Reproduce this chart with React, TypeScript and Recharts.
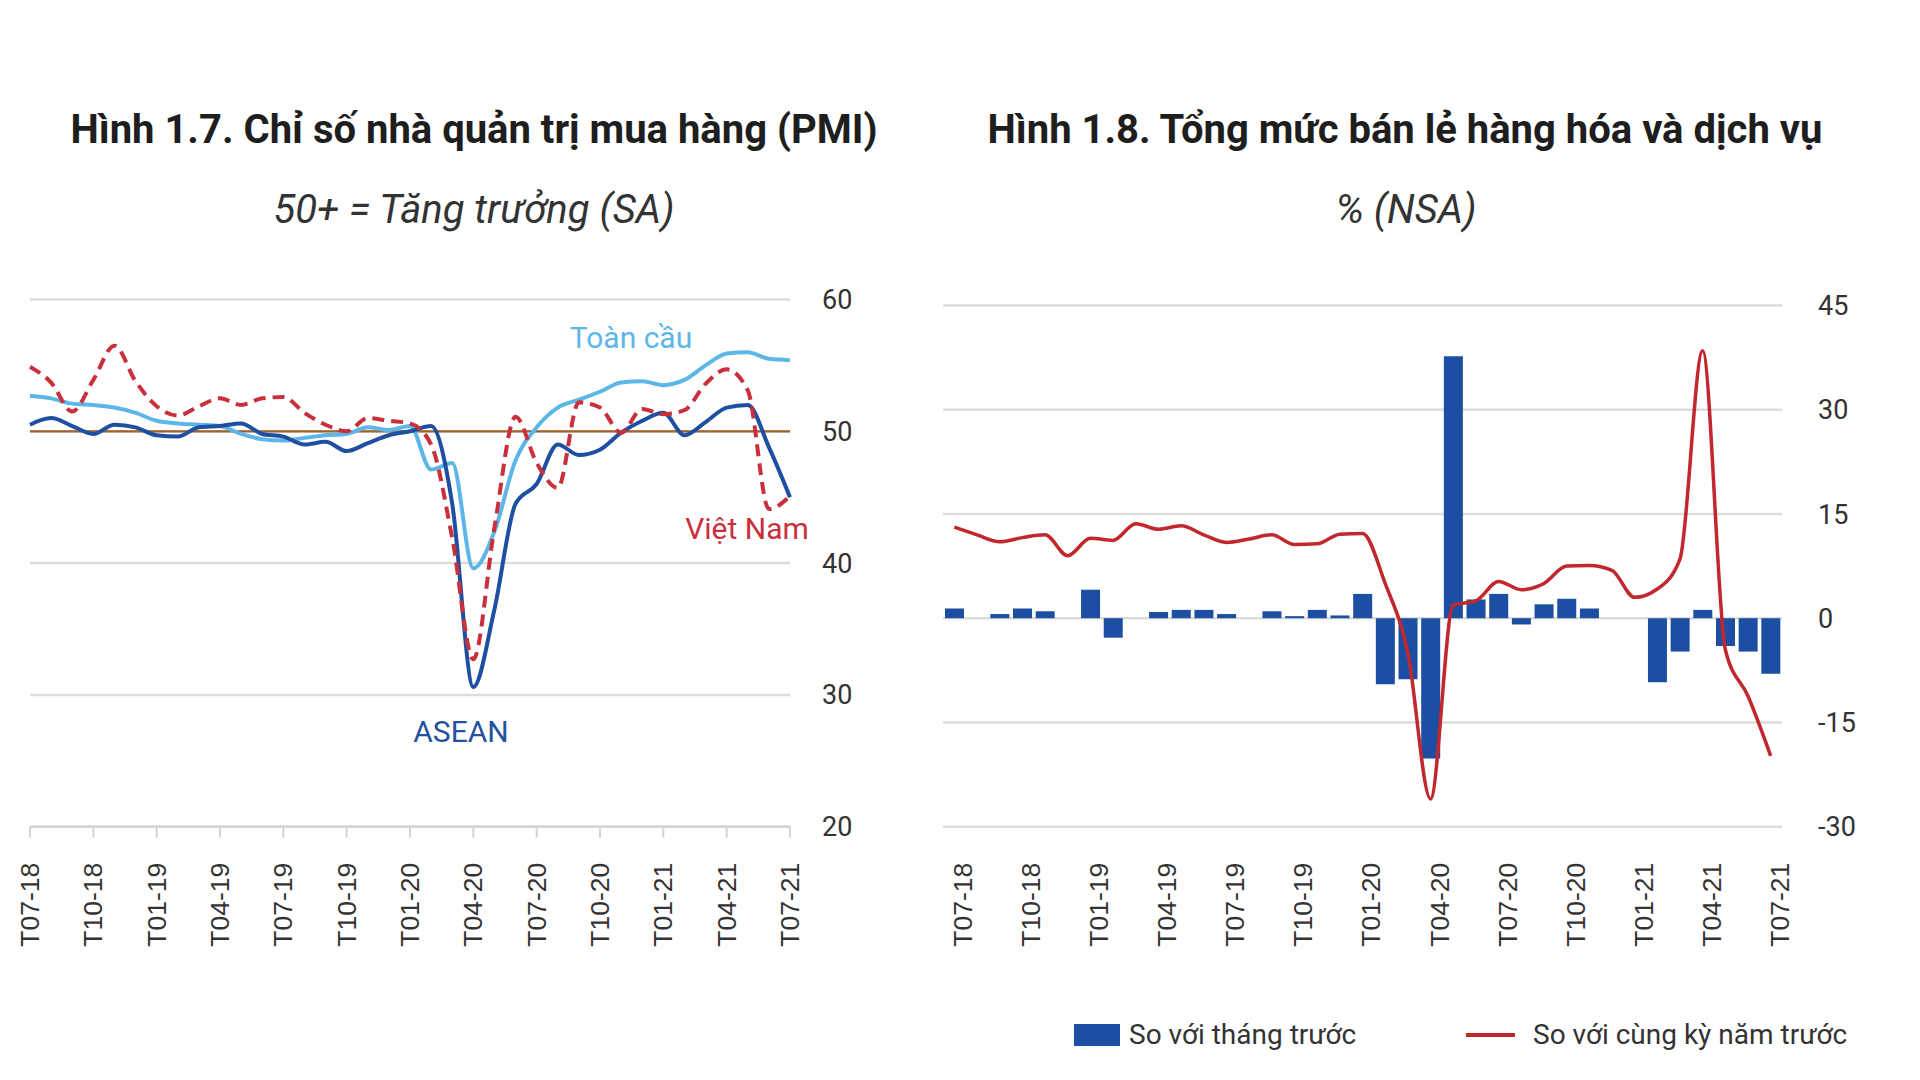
import React from 'react';
import { LineChart, Line, XAxis, YAxis, CartesianGrid, ReferenceLine, ComposedChart, Bar } from 'recharts';

const months = [
  'T07-18', 'T08-18', 'T09-18', 'T10-18', 'T11-18', 'T12-18',
  'T01-19', 'T02-19', 'T03-19', 'T04-19', 'T05-19', 'T06-19', 'T07-19', 'T08-19', 'T09-19', 'T10-19', 'T11-19', 'T12-19',
  'T01-20', 'T02-20', 'T03-20', 'T04-20', 'T05-20', 'T06-20', 'T07-20', 'T08-20', 'T09-20', 'T10-20', 'T11-20', 'T12-20',
  'T01-21', 'T02-21', 'T03-21', 'T04-21', 'T05-21', 'T06-21', 'T07-21',
];

const pmiGlobal = [52.7, 52.5, 52.1, 52.0, 51.8, 51.4, 50.8, 50.6, 50.5, 50.4, 49.8, 49.4, 49.3, 49.5, 49.7, 49.8, 50.3, 50.1, 50.4, 47.1, 47.6, 39.6, 42.4, 47.8, 50.3, 51.8, 52.4, 53.0, 53.7, 53.8, 53.5, 53.9, 55.0, 55.9, 56.0, 55.5, 55.4];
const pmiVietnam = [54.9, 53.7, 51.5, 53.9, 56.5, 53.8, 51.9, 51.2, 51.9, 52.5, 52.0, 52.5, 52.6, 51.4, 50.5, 50.0, 51.0, 50.8, 50.6, 49.0, 41.9, 32.7, 42.7, 51.1, 47.6, 45.7, 52.2, 51.8, 49.9, 51.7, 51.3, 51.6, 53.6, 54.7, 53.1, 44.1, 45.1];
const pmiAsean = [50.5, 51.0, 50.4, 49.8, 50.5, 50.3, 49.7, 49.6, 50.3, 50.4, 50.6, 49.8, 49.6, 49.0, 49.2, 48.5, 49.1, 49.7, 50.0, 50.4, 44.5, 30.6, 36.5, 44.5, 46.0, 49.0, 48.2, 48.6, 49.9, 50.8, 51.4, 49.7, 50.7, 51.8, 52.0, 48.8, 45.0];
const pmiTicks = [20, 30, 40, 50, 60];
const pmiThreshold = 50;

const retailMoM = [1.4, null, 0.6, 1.4, 1.0, null, 4.1, -2.8, null, 0.9, 1.2, 1.2, 0.6, null, 1.0, 0.3, 1.2, 0.4, 3.5, -9.5, -8.8, -20.2, 37.7, 2.7, 3.5, -0.9, 2.0, 2.8, 1.4, null, null, -9.2, -4.8, 1.2, -4.0, -4.8, -8.0];
const retailYoY = [13.1, 12.0, 11.0, 11.6, 12.0, 9.0, 11.5, 11.2, 13.6, 12.8, 13.3, 12.0, 10.9, 11.4, 12.0, 10.6, 10.7, 12.1, 12.2, 5.0, -5.0, -26.0, 1.9, 2.5, 5.3, 4.1, 5.0, 7.5, 7.6, 6.9, 3.0, 4.2, 8.5, 38.5, -4.5, -11.2, -19.8];
const retailTicks = [-30, -15, 0, 15, 30, 45];

const pmiData = months.map((m, i) => ({ month: m, global: pmiGlobal[i], vietnam: pmiVietnam[i], asean: pmiAsean[i] }));
const retailData = months.map((m, i) => ({ month: m, mom: retailMoM[i], yoy: retailYoY[i] }));

const FONT = 'Roboto, "Liberation Sans", Arial, sans-serif';
const TICK_FONT = '"Liberation Sans", Arial, sans-serif';

const C_ASEAN = '#1F4FA0';
const C_GLOBAL = '#5DB6E8';
const C_VN = '#C9303C';
const C_RED = '#C1272D';
const C_BAR = '#1C4EA3';
const C_BROWN = '#A0612A';
const C_GRID = '#DCDCDC';

function makeRotTick(shift: number) {
  return (props: any) => {
    const { x, y, payload } = props;
    const tx = x + shift;
    return (
      <text
        x={tx}
        y={y}
        transform={`rotate(-90 ${tx} ${y})`}
        textAnchor="end"
        dominantBaseline="central"
        fontSize={26.5}
        fill="#333"
        fontFamily={TICK_FONT}
      >
        {payload.value}
      </text>
    );
  };
}

const abs = (s: React.CSSProperties): React.CSSProperties => ({ position: 'absolute', whiteSpace: 'nowrap', lineHeight: 1, ...s });

export default function App() {
  return (
    <div style={{ position: 'absolute', left: 0, top: 0, width: 1920, height: 1080, background: '#fff', overflow: 'hidden', fontFamily: FONT }}>
      {/* Titles */}
      <div style={abs({ left: 474, top: 130, transform: 'translate(-50%, -50%)', fontSize: 40, fontWeight: 700, color: '#1e1e1e' })}>
        Hình 1.7. Chỉ số nhà quản trị mua hàng (PMI)
      </div>
      <div style={abs({ left: 474, top: 210, transform: 'translate(-50%, -50%)', fontSize: 40, fontStyle: 'italic', color: '#333' })}>
        50+ = Tăng trưởng (SA)
      </div>
      <div style={abs({ left: 1405, top: 130, transform: 'translate(-50%, -50%)', fontSize: 40, fontWeight: 700, color: '#1e1e1e' })}>
        Hình 1.8. Tổng mức bán lẻ hàng hóa và dịch vụ
      </div>
      <div style={abs({ left: 1406, top: 210, transform: 'translate(-50%, -50%)', fontSize: 40, fontStyle: 'italic', color: '#333' })}>
        % (NSA)
      </div>

      {/* Left chart */}
      <div style={{ position: 'absolute', left: 0, top: 0 }}>
        <LineChart width={960} height={1080} data={pmiData} margin={{ top: 299.5, right: 70, bottom: 133.3, left: 30 }}>
          <CartesianGrid vertical={false} stroke={C_GRID} strokeWidth={2.5} />
          <XAxis
            dataKey="month"
            scale="point"
            interval={2}
            height={120}
            axisLine={{ stroke: '#D4D4D4', strokeWidth: 2.5 }}
            tickLine={{ stroke: '#D4D4D4', strokeWidth: 2 }}
            tickSize={11}
            tickMargin={25}
            tick={makeRotTick(0)}
          />
          <YAxis
            orientation="right"
            width={100}
            domain={[20, 60]}
            ticks={pmiTicks}
            axisLine={false}
            tickLine={false}
            tickSize={0}
            tickMargin={32}
            tick={{ fill: '#333', fontSize: 27, fontFamily: FONT }}
          />
          <ReferenceLine y={pmiThreshold} stroke={C_BROWN} strokeWidth={2.2} />
          <Line type="monotone" dataKey="global" stroke={C_GLOBAL} strokeWidth={4} dot={false} isAnimationActive={false} />
          <Line type="monotone" dataKey="asean" stroke={C_ASEAN} strokeWidth={4} dot={false} isAnimationActive={false} />
          <Line type="monotone" dataKey="vietnam" stroke={C_VN} strokeWidth={4} strokeDasharray="12 7" dot={false} isAnimationActive={false} />
        </LineChart>
      </div>
      <div style={abs({ left: 631, top: 338, transform: 'translate(-50%, -50%)', fontSize: 30, color: C_GLOBAL })}>Toàn cầu</div>
      <div style={abs({ left: 747, top: 529, transform: 'translate(-50%, -50%)', fontSize: 30, color: C_VN })}>Việt Nam</div>
      <div style={abs({ left: 461, top: 732, transform: 'translate(-50%, -50%)', fontSize: 30, color: '#2350A0' })}>ASEAN</div>

      {/* Right chart */}
      <div style={{ position: 'absolute', left: 900, top: 0 }}>
        <ComposedChart width={1020} height={1080} data={retailData} margin={{ top: 305.5, right: 38, bottom: 133.3, left: 43 }}>
          <CartesianGrid vertical={false} stroke={C_GRID} strokeWidth={2.5} />
          <XAxis
            dataKey="month"
            interval={2}
            height={120}
            axisLine={false}
            tickLine={false}
            tickSize={0}
            tickMargin={36}
            tick={makeRotTick(9)}
          />
          <YAxis
            orientation="right"
            width={100}
            domain={[-30, 45]}
            ticks={retailTicks}
            axisLine={false}
            tickLine={false}
            tickSize={0}
            tickMargin={36}
            tick={{ fill: '#333', fontSize: 27, fontFamily: FONT }}
          />
          <Bar dataKey="mom" fill={C_BAR} barSize={19} isAnimationActive={false} />
          <Line type="monotone" dataKey="yoy" stroke={C_RED} strokeWidth={3.5} dot={false} isAnimationActive={false} />
        </ComposedChart>
      </div>

      {/* Legend */}
      <div style={abs({ left: 1074, top: 1024, width: 46, height: 22, background: C_BAR })} />
      <div style={abs({ left: 1129, top: 1035, transform: 'translateY(-50%)', fontSize: 28, color: '#333' })}>So với tháng trước</div>
      <div style={abs({ left: 1466, top: 1033, width: 49, height: 4, background: C_RED })} />
      <div style={abs({ left: 1533, top: 1035, transform: 'translateY(-50%)', fontSize: 28, color: '#333' })}>So với cùng kỳ năm trước</div>
    </div>
  );
}
